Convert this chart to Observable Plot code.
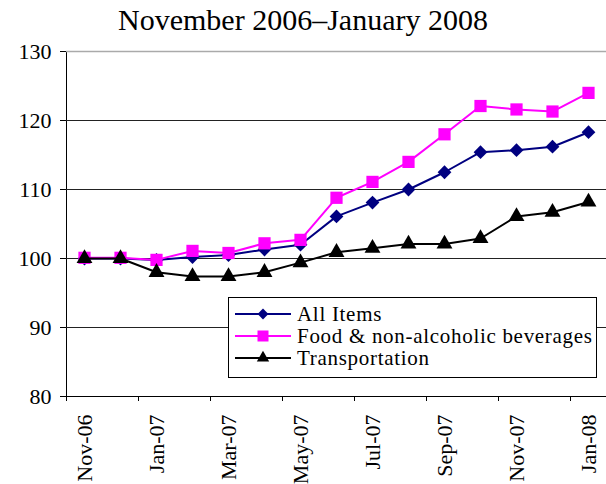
<!DOCTYPE html>
<html><head><meta charset="utf-8">
<script src="https://cdn.jsdelivr.net/npm/d3@7"></script>
<script src="https://cdn.jsdelivr.net/npm/@observablehq/plot@0.6"></script>
<style>
body{margin:0;background:#fff;}
#wrap{position:relative;width:606px;height:484px;overflow:hidden;font-family:"Liberation Serif","Times New Roman",serif;color:#000;}
#title{height:40px;line-height:40px;text-align:center;font-size:30px;}
#legend{position:absolute;left:228px;top:297px;width:367px;height:79px;border:1px solid #000;background:#fff;}
.row{position:absolute;left:6px;height:22px;display:flex;align-items:center;font-size:21px;letter-spacing:0.7px;white-space:nowrap;}
.row svg{margin-right:6px;}
</style></head>
<body>
<div id="wrap">
  <div id="title">November 2006–January 2008</div>
  <div id="chart"></div>
  <div id="legend"></div>
</div>
<script>
const months = ["Nov-06","Dec-06","Jan-07","Feb-07","Mar-07","Apr-07","May-07","Jun-07","Jul-07","Aug-07","Sep-07","Oct-07","Nov-07","Dec-07","Jan-08"];
const tickMonths = ["Nov-06","Jan-07","Mar-07","May-07","Jul-07","Sep-07","Nov-07","Jan-08"];
const yTicks = [80, 90, 100, 110, 120, 130];
const gridValues = [90, 100, 110, 120];
const frameTop = [130];
const allItems  = [100, 100, 99.8, 100.2, 100.5, 101.3, 102.0, 106.1, 108.1, 110.0, 112.5, 115.4, 115.7, 116.2, 118.3];
const food      = [100.1, 100.1, 99.8, 101.1, 100.8, 102.2, 102.7, 108.8, 111.1, 114.0, 118.0, 122.1, 121.6, 121.3, 124.0];
const transport = [100, 100, 98.0, 97.4, 97.4, 98.0, 99.4, 100.9, 101.5, 102.1, 102.1, 102.9, 106.1, 106.7, 108.2];
const seriesNames = ["All Items", "Food & non-alcoholic beverages", "Transportation"];
const seriesValues = [allItems, food, transport];
const seriesColors = ["#000080", "#ff00ff", "#000000"];
const seriesSymbols = ["diamond2", "square", "triangle"];
const seriesR = [6.2, 6.9, 5.9];

const W = 606, H = 444, mL = 66, mR = 0, mT = 11, mB = 88;
const step = (W - mL - mR) / months.length;
const yMin = 80, yMax = 130;
const tickLen = 5 * (yMax - yMin) / (H - mT - mB);

const marks = [
  Plot.ruleY(gridValues, {stroke: "#222", strokeWidth: 1}),
  Plot.ruleY(frameTop, {stroke: "#aaa", strokeWidth: 1.5}),
  Plot.ruleX(tickMonths, {x: d => d, dx: -step / 2, y1: yMin, y2: yMin - tickLen, stroke: "#000"})
];
seriesNames.forEach((name, k) => {
  const rows = months.map((m, i) => ({month: m, value: seriesValues[k][i]}));
  marks.push(Plot.line(rows, {x: "month", y: "value", stroke: seriesColors[k], strokeWidth: 2}));
  marks.push(Plot.dot(rows, {x: "month", y: "value", symbol: () => seriesSymbols[k], fill: seriesColors[k], r: seriesR[k], stroke: "none"}));
});

const chart = Plot.plot({
  width: W, height: H,
  marginTop: mT, marginBottom: mB, marginLeft: mL, marginRight: mR,
  style: {fontFamily: "'Liberation Serif', serif", fontSize: "22px", color: "#000", background: "#fff", overflow: "visible"},
  x: {type: "point", domain: months, padding: 0.5, ticks: tickMonths, tickSize: 0, tickRotate: -90, tickPadding: 18, line: true, label: null},
  y: {domain: [yMin, yMax], ticks: yTicks, tickSize: 6, tickPadding: 9, line: true, label: null},
  symbol: {type: "identity"},
  marks
});
document.getElementById("chart").appendChild(chart);

// legend
const legend = document.getElementById("legend");
const legendSizes = [75, 121, 66];
const symbolMap = {diamond2: d3.symbolDiamond2, square: d3.symbolSquare, triangle: d3.symbolTriangle};
seriesNames.forEach((name, k) => {
  const row = document.createElement("div");
  row.className = "row";
  row.style.top = (5 + 22 * k) + "px";
  const svg = d3.create("svg").attr("width", 56).attr("height", 22);
  svg.append("line").attr("x1", 0).attr("x2", 56).attr("y1", 11).attr("y2", 11)
    .attr("stroke", seriesColors[k]).attr("stroke-width", 2);
  svg.append("path").attr("transform", "translate(28,11)")
    .attr("d", d3.symbol(symbolMap[seriesSymbols[k]], legendSizes[k])())
    .attr("fill", seriesColors[k]);
  row.appendChild(svg.node());
  const span = document.createElement("span");
  span.textContent = name;
  row.appendChild(span);
  legend.appendChild(row);
});
</script>
</body></html>
